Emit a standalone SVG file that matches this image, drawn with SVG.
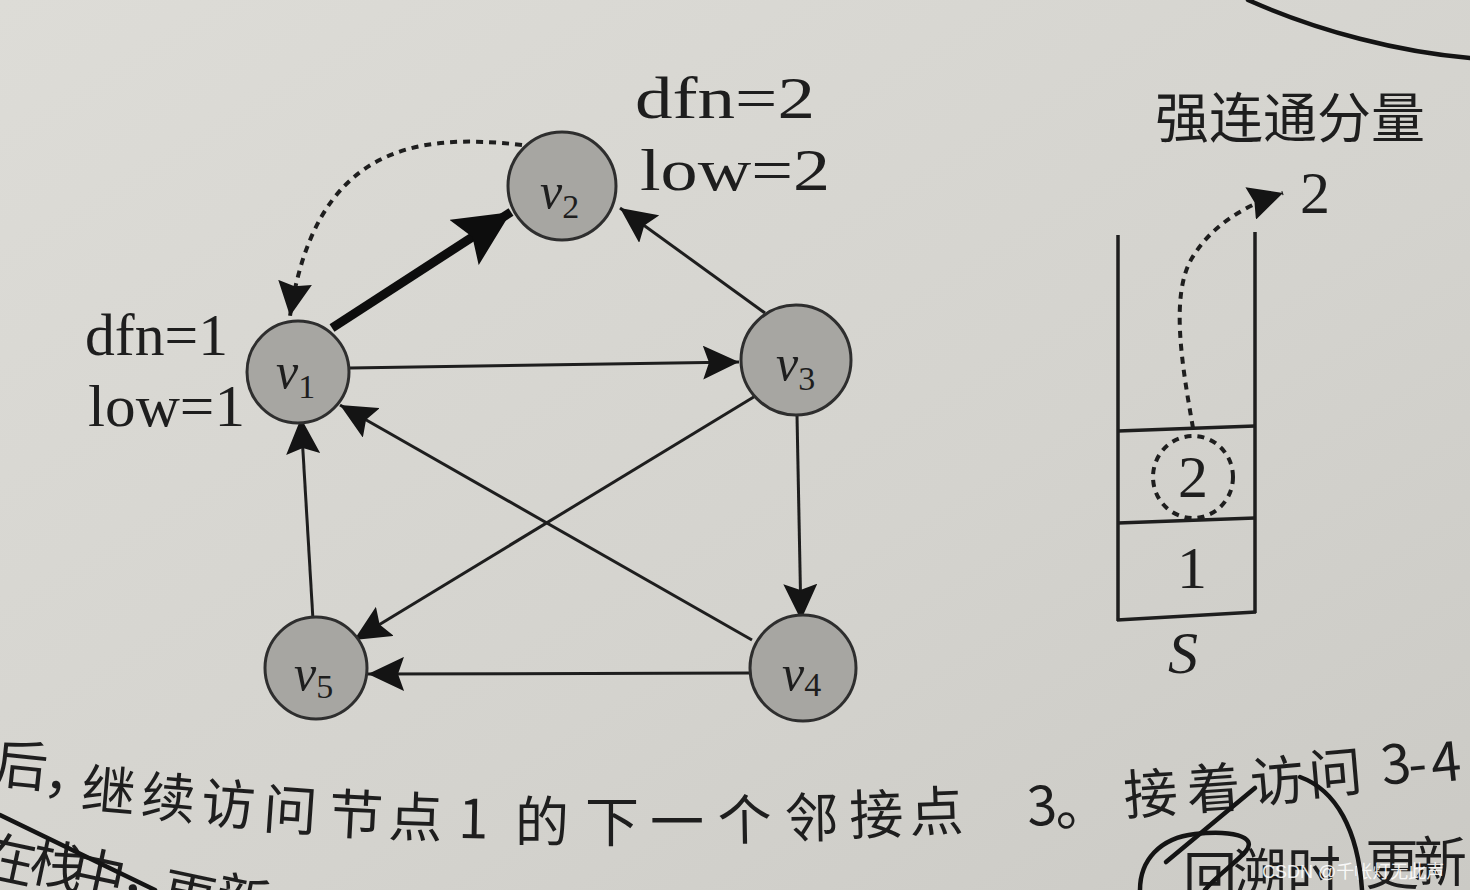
<svg xmlns="http://www.w3.org/2000/svg" width="1470" height="890" viewBox="0 0 1470 890">
<defs>
<linearGradient id="bg" x1="0" y1="0" x2="1" y2="1">
<stop offset="0" stop-color="#dddcd7"/>
<stop offset="0.6" stop-color="#d4d3ce"/>
<stop offset="1" stop-color="#cbcac5"/>
</linearGradient>
<marker id="arr" markerUnits="userSpaceOnUse" markerWidth="38" markerHeight="34" refX="36" refY="17" orient="auto">
<path d="M0,0 L36,17 L0,34 L6,17 Z" fill="#141414"/>
</marker>
<marker id="arrBig" markerUnits="userSpaceOnUse" markerWidth="58" markerHeight="54" refX="56" refY="27" orient="auto">
<path d="M0,0 L56,27 L0,54 L10,27 Z" fill="#0d0d0d"/>
</marker>
<marker id="arrDash" markerUnits="userSpaceOnUse" markerWidth="36" markerHeight="34" refX="34" refY="17" orient="auto">
<path d="M0,0 L34,17 L0,34 L4,17 Z" fill="#141414"/>
</marker>
</defs>
<style>
.node{fill:#a7a6a2;stroke:#2e2e2e;stroke-width:3}
.vl{font-family:"Liberation Serif",serif;font-style:italic;font-size:50px;fill:#1e1e1e}
.sub{font-style:normal;font-size:34px}
.edge{stroke:#1e1e1e;stroke-width:3;fill:none;marker-end:url(#arr)}
.thick{stroke:#0d0d0d;stroke-width:9;fill:none;marker-end:url(#arrBig)}
.dash{stroke:#1e1e1e;stroke-width:4;fill:none;stroke-dasharray:7 6}
.lbl{font-family:"Liberation Serif",serif;font-size:60px;fill:#1e1e1e}
.st{stroke:#1e1e1e;stroke-width:3.5;fill:none}
.cjk{font-family:"Noto Sans CJK SC",sans-serif;font-size:54px;fill:#1e1e1e}
.hand{stroke:#141414;stroke-width:4.5;fill:none;stroke-linecap:round}
</style>
<rect x="0" y="0" width="1470" height="890" fill="url(#bg)"/>

<g id="connectors">
<line class="thick" x1="332" y1="328" x2="511" y2="212"/>
<line class="edge" x1="350" y1="368" x2="739" y2="362"/>
<line class="edge" x1="765" y1="313" x2="620" y2="208"/>
<line class="edge" x1="797" y1="415" x2="801" y2="620"/>
<line class="edge" x1="757" y1="395" x2="354" y2="640"/>
<line class="edge" x1="752" y1="640" x2="340" y2="405"/>
<line class="edge" x1="750" y1="673" x2="368" y2="674"/>
<line class="edge" x1="313" y1="620" x2="301" y2="418"/>
<path class="dash" d="M 522 145 C 410 132 315 150 290 316" marker-end="url(#arrDash)"/>
</g>

<g id="node-v1">
<circle class="node" cx="298" cy="372" r="51"/>
<text class="vl" x="276" y="388">v<tspan class="sub" dy="10">1</tspan></text>
</g>
<g id="node-v2">
<circle class="node" cx="562" cy="186" r="54"/>
<text class="vl" x="540" y="208">v<tspan class="sub" dy="10">2</tspan></text>
</g>
<g id="node-v3">
<circle class="node" cx="796" cy="360" r="55"/>
<text class="vl" x="776" y="380">v<tspan class="sub" dy="10">3</tspan></text>
</g>
<g id="node-v4">
<circle class="node" cx="803" cy="668" r="53"/>
<text class="vl" x="782" y="690">v<tspan class="sub" dy="6">4</tspan></text>
</g>
<g id="node-v5">
<circle class="node" cx="316" cy="668" r="51"/>
<text class="vl" x="294" y="690">v<tspan class="sub" dy="8">5</tspan></text>
</g>

<g id="labels">
<text class="lbl" x="85" y="355" textLength="143" lengthAdjust="spacingAndGlyphs">dfn=1</text>
<text class="lbl" x="88" y="426" textLength="157" lengthAdjust="spacingAndGlyphs">low=1</text>
<text class="lbl" x="635" y="118" textLength="180" lengthAdjust="spacingAndGlyphs">dfn=2</text>
<text class="lbl" x="640" y="190" textLength="190" lengthAdjust="spacingAndGlyphs">low=2</text>
</g>

<g id="stack">
<text class="cjk" x="1290" y="138" text-anchor="middle" font-size="56">强连通分量</text>
<line class="st" x1="1118" y1="235" x2="1118" y2="621"/>
<line class="st" x1="1255" y1="232" x2="1255" y2="613"/>
<line class="st" x1="1118" y1="431" x2="1255" y2="426"/>
<line class="st" x1="1118" y1="523" x2="1255" y2="518"/>
<line class="st" x1="1117" y1="620" x2="1256" y2="612"/>
<ellipse class="dash" cx="1193" cy="477" rx="40" ry="41"/>
<text class="lbl" x="1193" y="497" text-anchor="middle" font-size="54">2</text>
<text class="lbl" x="1192" y="588" text-anchor="middle" font-size="54">1</text>
<text class="lbl" x="1183" y="673" text-anchor="middle" font-size="58" font-style="italic">S</text>
<path class="dash" d="M 1193 428 C 1182 365 1170 295 1192 258 C 1210 228 1240 207 1283 193" marker-end="url(#arrDash)"/>
<text class="lbl" x="1315" y="213" text-anchor="middle" font-size="54">2</text>
</g>

<g id="page-text">
<text class="cjk" x="-8 42 80 140 200 262 328 388 458 515 585 650 718 785 850 910 1028 1056 1125 1188 1252 1310 1383 1410 1433" y="782 792 808 815 822 828 833 836 838 842 842 842 840 838 835 832 826 826 815 810 803 795 785 784 783" rotate="6 6 5 5 4 4 3 2 1 0 0 0 -1 -1 -2 -2 -3 -3 -4 -4 -5 -5 -6 -6 -6">后，继续访问节点1的下一个邻接点3。接着访问3-4</text>
<text class="cjk" x="-22 27 68 118 158 212" y="873 879 888 894 910 914" rotate="12 12 12 12 12 12" font-size="50">在栈中，更新</text>
<text class="cjk" x="1183 1233 1287 1365 1413" y="897 894 892 885 882" font-size="50">回溯时更新</text>
<text x="1262" y="878" font-family="'Liberation Sans','Noto Sans CJK SC',sans-serif" font-size="18" fill="#ffffff" fill-opacity="0.9">CSDN @千帐灯无此声</text>
</g>

<g id="handwriting">
<path class="hand" d="M 1248 0 C 1320 32 1400 52 1470 58"/>
<path class="hand" d="M 1300 777 C 1336 790 1358 830 1362 890"/>
<path class="hand" d="M 1255 788 L 1166 862"/>
<path class="hand" d="M 1140 890 C 1140 860 1160 838 1195 834 C 1230 830 1258 836 1246 851 C 1236 863 1216 876 1205 890"/>
<path class="hand" d="M 0 815 L 155 890"/>
</g>
</svg>
